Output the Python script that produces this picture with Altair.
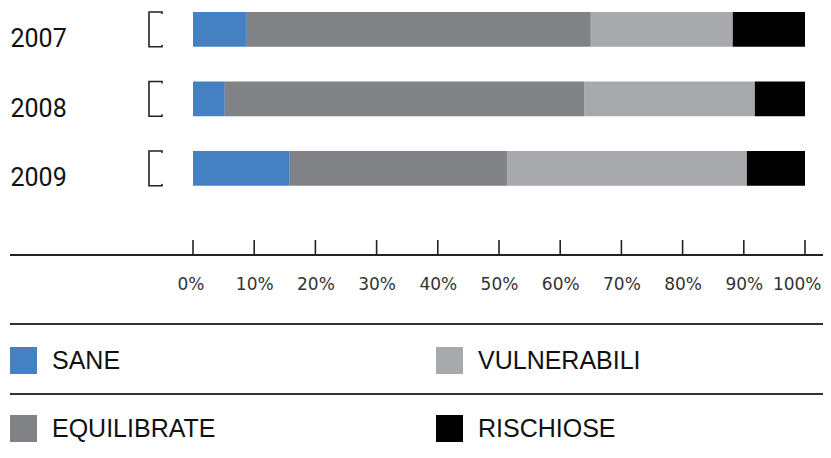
import altair as alt
import pandas as pd

years = ["2007", "2008", "2009"]
categories = ["SANE", "EQUILIBRATE", "VULNERABILI", "RISCHIOSE"]
sane = [8.8, 5.2, 15.8]
equilibrate = [56.2, 58.7, 35.5]
vulnerabili = [23.2, 27.9, 39.2]
rischiose = [11.8, 8.2, 9.5]
tick_values = [0, 10, 20, 30, 40, 50, 60, 70, 80, 90, 100]

colors = ["#4580c3", "#808285", "#a7a9ac", "#000000"]

series = [sane, equilibrate, vulnerabili, rischiose]
rows = []
for ci, (cat, vals) in enumerate(zip(categories, series)):
    for y, v in zip(years, vals):
        rows.append({"year": y, "category": cat, "value": v, "k": ci})
df = pd.DataFrame(rows)
ydf = pd.DataFrame({"year": years})
tdf = pd.DataFrame({"t": tick_values})

xscale = alt.Scale(domain=[0, 100], nice=False, zero=False)
yscale = alt.Scale(domain=years, paddingInner=0.5, paddingOuter=0)

bars = alt.Chart(df).mark_bar().encode(
    x=alt.X("value:Q", stack="zero", scale=xscale,
            axis=alt.Axis(values=tick_values, labelExpr="datum.value + '%'", domain=False, ticks=False,
                          tickSize=0, grid=False, labelPadding=91, labelFont="DejaVu Sans",
                          labelFontSize=17, labelColor="#333333", labelOverlap=False,
                          labelFlush=True, labelFlushOffset=16, title=None)),
    y=alt.Y("year:N", scale=yscale,
            axis=alt.Axis(domain=False, ticks=False, tickSize=0, labelAlign="left", labelPadding=183,
                          labelOffset=10, labelFont="Roboto", labelFontSize=25, labelColor="#111111",
                          labelBaseline="middle", title=None)),
    color=alt.Color("category:N",
                    scale=alt.Scale(domain=categories, range=colors),
                    legend=alt.Legend(title=None, orient="none", legendX=-183, legendY=335, columns=2,
                                      columnPadding=220, rowPadding=41, symbolType="square",
                                      symbolSize=729, symbolStrokeWidth=0, symbolOpacity=1,
                                      labelFont="Liberation Sans", labelFontSize=25, labelColor="#111111",
                                      labelOffset=15, labelLimit=400, padding=0)),
    order=alt.Order("k:Q"),
)

bracket = alt.Chart(ydf).mark_bar(fill="white", stroke="#222222", strokeWidth=1.6).encode(
    y=alt.Y("year:N", scale=yscale), x=alt.value(-44), x2=alt.value(-31)
)
bracket_cover = alt.Chart(ydf).mark_bar(fill="white", size=31).encode(
    y=alt.Y("year:N", scale=yscale), x=alt.value(-33), x2=alt.value(-26)
)

ticks = alt.Chart(tdf).mark_rule(color="#222222", strokeWidth=1.6).encode(
    x=alt.X("t:Q", scale=xscale), y=alt.value(228), y2=alt.value(243)
)
axis_line = alt.Chart(tdf).mark_rule(color="#222222", strokeWidth=2).encode(
    x=alt.value(-183), x2=alt.value(640), y=alt.value(243)
)
sep1 = alt.Chart(tdf).mark_rule(color="#333333", strokeWidth=1.6).encode(
    x=alt.value(-183), x2=alt.value(640), y=alt.value(312.3)
)
sep2 = alt.Chart(tdf).mark_rule(color="#333333", strokeWidth=1.6).encode(
    x=alt.value(-183), x2=alt.value(640), y=alt.value(381.7)
)

chart = alt.layer(bracket, bracket_cover, bars, ticks, axis_line, sep1, sep2).properties(
    width=612, height=173.75,
    autosize=alt.AutoSizeParams(type="none"),
    padding={"left": 185, "top": 4, "right": 18, "bottom": 264},
).configure_view(stroke=None)

chart.save("out.html", embed_options={"renderer": "svg", "actions": False})
